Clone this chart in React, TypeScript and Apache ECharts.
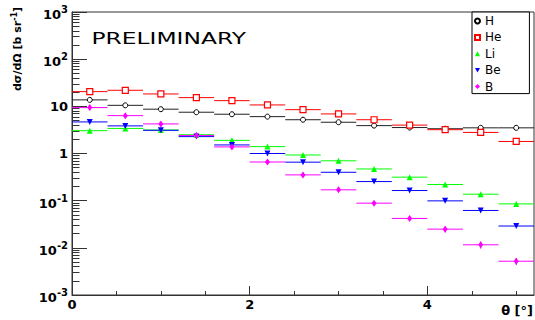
import React, { useEffect, useRef } from 'react';
import * as echarts from 'echarts';

// Bin centres of the polar angle theta [deg]; each bin is 0.4 deg wide
const theta = [0.2, 0.6, 1.0, 1.4, 1.8, 2.2, 2.6, 3.0, 3.4, 3.8, 4.2, 4.6, 5.0];
const binHalfWidth = 0.2;

const seriesNames = ['H', 'He', 'Li', 'Be', 'B'];
const hValues = [13.7, 10.5, 8.7, 7.5, 6.8, 6.05, 5.2, 4.6, 3.9, 3.55, 3.35, 3.5, 3.5];
const heValues = [20.5, 21.9, 18.3, 15.3, 13.2, 10.7, 8.5, 6.9, 5.2, 4.0, 3.2, 2.8, 1.8];
const liValues = [3.05, 3.4, 3.15, 2.5, 1.9, 1.4, 0.93, 0.7, 0.47, 0.315, 0.22, 0.137, 0.0855];
const beValues = [4.67, 3.85, 3.1, 2.28, 1.52, 1.0, 0.655, 0.4, 0.254, 0.164, 0.099, 0.062, 0.029];
const bValues = [9.4, 6.35, 4.24, 2.4, 1.38, 0.66, 0.352, 0.17, 0.0885, 0.042, 0.0249, 0.0116, 0.0052];

// relative vertical errors (only visible for B)
const zeroErr = [0, 0, 0, 0, 0, 0, 0, 0, 0, 0, 0, 0, 0];
const bRelErr = [0, 0, 0, 0.03, 0.03, 0.03, 0.04, 0.08, 0.06, 0.08, 0.15, 0.17, 0.17];

// axis ticks
const xTickValues = [0, 2, 4];
const xMinorTickValues = [0.5, 1, 1.5, 2.5, 3, 3.5, 4.5, 5];
const yTickValues = [0.001, 0.01, 0.1, 1, 10, 100, 1000];
const yDecades = [0.001, 0.01, 0.1, 1, 10, 100];
const yMinorMultipliers = [2, 3, 4, 5, 6, 7, 8, 9];
const yMinorTickValues = yDecades.flatMap((d) => yMinorMultipliers.map((m) => +(d * m).toPrecision(3)));

const FONT = 'DejaVu Sans';

const styles = [
  { symbol: 'circle', size: 5, rotate: 0, fill: '#ffffff', stroke: '#000000', line: '#222222', bw: 1 },
  { symbol: 'rect', size: 6, rotate: 0, fill: '#ffffff', stroke: '#ff0000', line: '#ff0000', bw: 1.2 },
  { symbol: 'triangle', size: 6, rotate: 0, fill: '#00ff00', stroke: '#00ff00', line: '#00ff00', bw: 0 },
  { symbol: 'triangle', size: 6, rotate: 180, fill: '#0000ff', stroke: '#0000ff', line: '#0000ff', bw: 0 },
  { symbol: 'diamond', size: [5, 7], rotate: 0, fill: '#ff00ff', stroke: '#ff00ff', line: '#ff00ff', bw: 0 },
];
const legendIcons = ['circle', 'rect', 'triangle', 'path://M0,0L10,0L5,9Z', 'diamond'];

const allValues = [hValues, heValues, liValues, beValues, bValues];
const allErrs = [zeroErr, zeroErr, zeroErr, zeroErr, bRelErr];

export default function App() {
  const ref = useRef<HTMLDivElement>(null);

  useEffect(() => {
    if (!ref.current) return;
    const chart = echarts.init(ref.current, undefined, { renderer: 'svg' });

    const scatterSeries = seriesNames.map((name, k) => ({
      name,
      type: 'scatter',
      z: 3,
      symbol: styles[k].symbol,
      symbolSize: styles[k].size,
      symbolRotate: styles[k].rotate,
      itemStyle: {
        color: styles[k].fill,
        borderColor: styles[k].stroke,
        borderWidth: styles[k].bw,
        opacity: 1,
      },
      emphasis: { disabled: true },
      data: theta.map((t, i) => [t, allValues[k][i]]),
    }));

    const binSeries = seriesNames.map((name, k) => ({
      name: name + ' bins',
      type: 'custom',
      z: 2,
      silent: true,
      encode: { x: 0, y: 1 },
      data: theta.map((t, i) => [t, allValues[k][i], allErrs[k][i]]),
      renderItem: (params: any, api: any) => {
        const x = api.value(0);
        const y = api.value(1);
        const e = api.value(2);
        const a = api.coord([x - binHalfWidth, y]);
        const b = api.coord([x + binHalfWidth, y]);
        const st = { stroke: styles[k].line, lineWidth: 1 };
        const children: any[] = [
          { type: 'line', shape: { x1: a[0], y1: a[1], x2: b[0], y2: b[1] }, style: st },
        ];
        if (e > 0) {
          const lo = api.coord([x, y * (1 - e)]);
          const hi = api.coord([x, y * (1 + e)]);
          children.push({ type: 'line', shape: { x1: lo[0], y1: lo[1], x2: hi[0], y2: hi[1] }, style: st });
        }
        return { type: 'group', children };
      },
    }));

    const axisColor = '#333333';

    chart.setOption({
      animation: false,
      textStyle: { fontFamily: FONT },
      grid: {
        left: 72,
        right: 1,
        top: 12,
        bottom: 25,
        show: true,
        borderColor: axisColor,
        borderWidth: 1,
        backgroundColor: 'transparent',
      },
      legend: {
        data: seriesNames.map((name, k) => ({ name, icon: legendIcons[k] })),
        orient: 'vertical',
        left: 472,
        top: 12,
        padding: [2, 28, 0, 2],
        itemWidth: 5,
        itemHeight: 5,
        itemGap: 2.4,
        selectedMode: false,
        borderColor: '#000',
        borderWidth: 1,
        backgroundColor: '#fff',
        textStyle: { fontFamily: FONT, fontSize: 12, color: '#000', lineHeight: 14 },
      },
      xAxis: [
        {
          type: 'value',
          min: 0,
          max: 5.2,
          axisLine: { show: true, onZero: false, lineStyle: { color: axisColor, width: 1 } },
          axisTick: { show: true, inside: true, length: 9, customValues: xTickValues, lineStyle: { color: axisColor } },
          axisLabel: {
            customValues: xTickValues,
            margin: 3,
            fontFamily: FONT,
            fontWeight: 'bold',
            fontSize: 13,
            color: '#000',
          },
          splitLine: { show: false },
        },
        {
          type: 'value',
          min: 0,
          max: 5.2,
          position: 'bottom',
          axisLine: { show: false },
          axisTick: { show: true, inside: true, length: 4, customValues: xMinorTickValues, lineStyle: { color: axisColor } },
          axisLabel: { show: false },
          splitLine: { show: false },
        },
      ],
      yAxis: [
        {
          type: 'log',
          logBase: 10,
          min: 0.001,
          max: 1000,
          axisLine: { show: true, onZero: false, lineStyle: { color: axisColor, width: 1 } },
          axisTick: { show: true, inside: true, length: 15, customValues: yTickValues, lineStyle: { color: axisColor } },
          axisLabel: {
            customValues: yTickValues,
            margin: 4,
            formatter: (v: number) => {
              const e = Math.round(Math.log10(v));
              if (e === 0) return '{p|1}';
              if (e === 1) return '{p|10}';
              return '{b|10}{s|' + e + '}';
            },
            rich: {
              p: { fontFamily: FONT, fontWeight: 'bold', fontSize: 13, color: '#000' },
              b: { fontFamily: FONT, fontWeight: 'bold', fontSize: 13, color: '#000', padding: [5, 0, 0, 0] },
              s: { fontFamily: FONT, fontWeight: 'bold', fontSize: 10, color: '#000', padding: [0, 0, 5, 0] },
            },
          },
          splitLine: { show: false },
          minorTick: { show: false },
        },
        {
          type: 'log',
          logBase: 10,
          min: 0.001,
          max: 1000,
          position: 'left',
          axisLine: { show: false },
          axisTick: { show: true, inside: true, length: 7.5, customValues: yMinorTickValues, lineStyle: { color: axisColor } },
          axisLabel: { show: false },
          splitLine: { show: false },
        },
      ],
      graphic: [
        {
          type: 'text',
          x: 91.5,
          y: 38,
          scaleX: 1.46,
          style: {
            text: 'PRELIMINARY',
            fontFamily: FONT,
            fontSize: 16,
            fill: '#000',
            align: 'left',
            verticalAlign: 'middle',
          },
        },
        {
          type: 'text',
          x: 17,
          y: 49,
          rotation: Math.PI / 2,
          style: {
            text: 'dσ/dΩ [b sr{s|-1}]',
            fontFamily: FONT,
            fontWeight: 'bold',
            fontSize: 11,
            fill: '#000',
            align: 'center',
            verticalAlign: 'middle',
            rich: {
              s: { fontFamily: FONT, fontWeight: 'bold', fontSize: 8, fill: '#000', padding: [0, 0, 5, 0] },
            },
          },
        },
        {
          type: 'text',
          x: 533,
          y: 310,
          style: {
            text: 'θ [°]',
            fontFamily: FONT,
            fontWeight: 'bold',
            fontSize: 13,
            fill: '#000',
            align: 'right',
            verticalAlign: 'middle',
          },
        },
      ],
      series: [...scatterSeries, ...binSeries],
    });

    return () => chart.dispose();
  }, []);

  return <div ref={ref} style={{ position: 'absolute', left: 0, top: 0, width: 535, height: 320 }} />;
}
